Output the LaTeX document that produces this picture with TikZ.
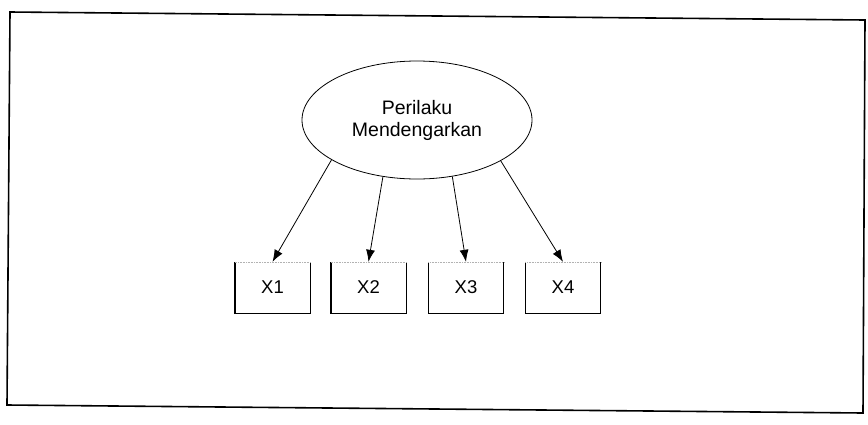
\documentclass[tikz,border=0pt]{standalone}
\usepackage{fontspec}
\setmainfont{Liberation Sans}
\usetikzlibrary{shapes.geometric,arrows.meta}

\tikzset{
  framepath/.style={line width=1.6pt, line join=miter},
  latent/.style={ellipse, draw, line width=0.8pt, minimum width=230pt, minimum height=118pt,
                 inner sep=0pt, align=center, font=\fontsize{19.5}{22}\selectfont},
  indicator/.style={minimum width=75pt, minimum height=51pt, inner sep=0pt,
                    font=\fontsize{18.5}{21}\selectfont},
  boxside/.style={line width=1.4pt},
  boxtop/.style={line width=0.6pt, gray!60, densely dotted},
  loading/.style={line width=0.8pt, -{Latex[length=12pt,width=9pt]}},
}

\begin{document}
\begin{tikzpicture}[x=1pt,y=-1pt]
  \useasboundingbox (0,0) rectangle (868,424);
  \fill[white] (0,0) rectangle (868,424);

  % outer frame
  \coordinate (f1) at (10,12);
  \coordinate (f2) at (865,20);
  \coordinate (f3) at (863,413);
  \coordinate (f4) at (7,405);
  \draw[framepath] (f1) -- (f2) -- (f3) -- (f4) -- cycle;

  % latent construct
  \node[latent] (lat) at (417,120) {Perilaku\\Mendengarkan};

  % indicators
  \node[indicator] (x1) at (272.5,287.5) {X1};
  \node[indicator] (x2) at (368.5,287.5) {X2};
  \node[indicator] (x3) at (466,287.5) {X3};
  \node[indicator] (x4) at (563,287.5) {X4};

  \foreach \b in {x1,x2,x3,x4} {
    \draw[boxside] (\b.north west) -- (\b.south west) -- (\b.south east) -- (\b.north east);
    \draw[boxtop] (\b.north west) -- (\b.north east);
  }

  % loadings
  \draw[loading] (lat.205) -- (x1.north);
  \draw[loading] (lat.239) -- (x2.north);
  \draw[loading] (lat.302) -- (x3.north);
  \draw[loading] (lat.334) -- (x4.north);
\end{tikzpicture}
\end{document}
